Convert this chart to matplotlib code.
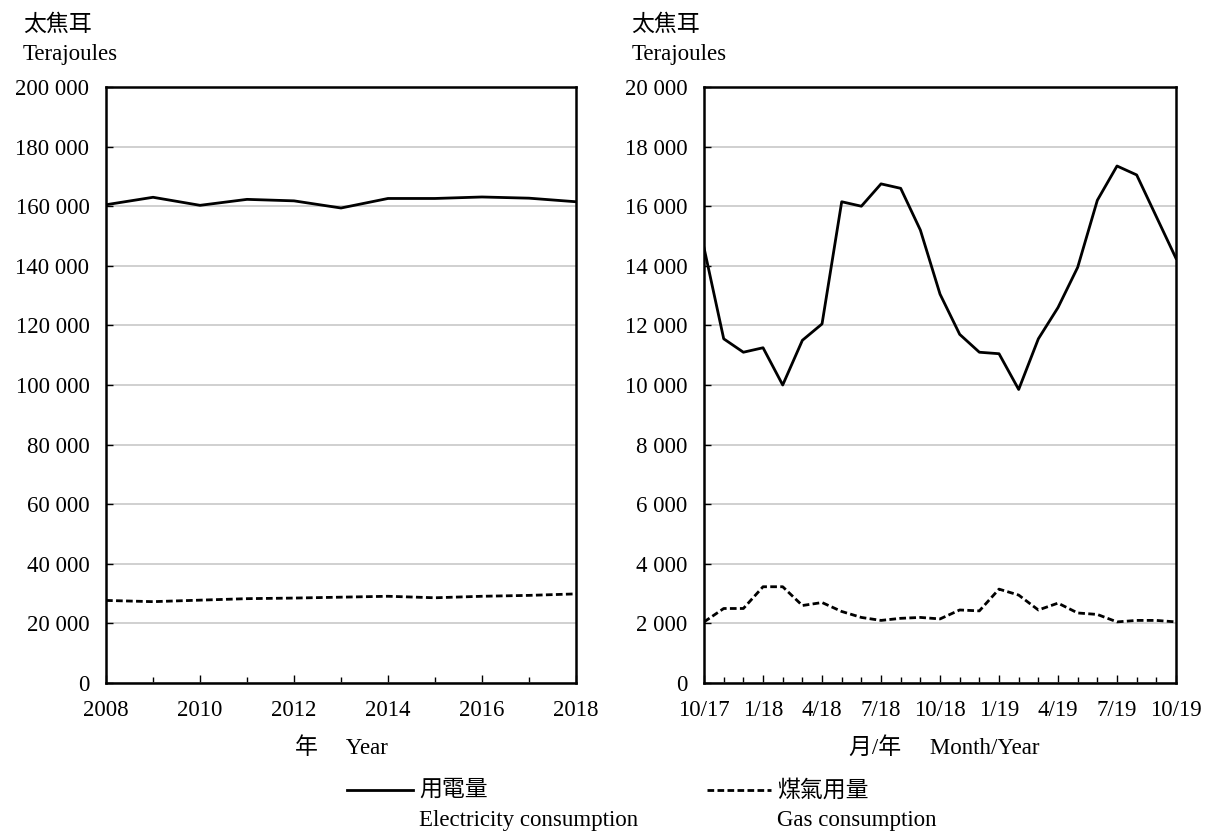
"""Annual and monthly electricity / gas consumption (terajoules), two panels."""
import matplotlib
matplotlib.use("Agg")
import matplotlib.pyplot as plt
from matplotlib.lines import Line2D
from matplotlib.ticker import FuncFormatter, MultipleLocator

FONT = ["Liberation Serif", "Noto Sans CJK TC"]
plt.rcParams["font.family"] = FONT

years = [2008, 2009, 2010, 2011, 2012, 2013, 2014, 2015, 2016, 2017, 2018]
elec_year = [160500, 163000, 160300, 162300, 161800, 159400, 162600, 162600, 163100, 162700, 161500]
gas_year = [27700, 27300, 27800, 28300, 28500, 28800, 29100, 28600, 29100, 29400, 29900]

# monthly series, 10/17 .. 10/19
month_labels = ["10/17", "1/18", "4/18", "7/18", "10/18", "1/19", "4/19", "7/19", "10/19"]
elec_month = [14600, 11550, 11100, 11250, 10000, 11500, 12050, 16150, 16000, 16750,
              16600, 15200, 13050, 11700, 11100, 11050, 9850, 11550, 12600, 13950,
              16200, 17350, 17050, 15650, 14250]
gas_month = [2050, 2500, 2500, 3230, 3230, 2600, 2700, 2400, 2200, 2100,
             2170, 2200, 2150, 2450, 2420, 3150, 2950, 2450, 2680, 2350,
             2300, 2050, 2100, 2100, 2050]

FS = 16.5
LW = 2.0
DASH = (0, (2.4, 1.2))


def space_thousands(v, _):
    return f"{int(v):,}".replace(",", " ")


def style(ax, ymax, ystep):
    ax.set_ylim(0, ymax)
    ax.yaxis.set_major_locator(MultipleLocator(ystep))
    ax.yaxis.set_major_formatter(FuncFormatter(space_thousands))
    ax.grid(axis="y", color="#c4c4c4", lw=1.1)
    ax.set_axisbelow(True)
    for s in ax.spines.values():
        s.set_linewidth(1.8)
    ax.tick_params(axis="y", direction="in", length=5, width=1, labelsize=FS, pad=12)
    ax.tick_params(axis="x", which="both", direction="in", width=1, labelsize=FS, pad=12)
    ax.tick_params(axis="x", which="major", length=6)
    ax.tick_params(axis="x", which="minor", length=4)


fig = plt.figure(figsize=(12.12, 8.32), dpi=100)
ax1 = fig.add_axes([0.0875, 0.1791, 0.3877, 0.7163])
ax2 = fig.add_axes([0.5809, 0.1791, 0.3894, 0.7163])

ax1.plot(years, elec_year, color="black", lw=LW)
ax1.plot(years, gas_year, color="black", lw=LW, linestyle=DASH)
ax1.set_xlim(2008, 2018)
ax1.xaxis.set_major_locator(MultipleLocator(2))
ax1.xaxis.set_minor_locator(MultipleLocator(1))
style(ax1, 200000, 20000)

idx = list(range(len(elec_month)))
ax2.plot(idx, elec_month, color="black", lw=LW)
ax2.plot(idx, gas_month, color="black", lw=LW, linestyle=DASH)
ax2.set_xlim(0, len(idx) - 1)
ax2.set_xticks(range(0, len(idx), 3))
ax2.set_xticklabels(month_labels)
ax2.xaxis.set_minor_locator(MultipleLocator(1))
style(ax2, 20000, 2000)

# unit labels above each panel
for x in (0.019, 0.521):
    fig.text(x, 0.970, "太焦耳", fontsize=FS, va="center", ha="left")
    fig.text(x, 0.934, "Terajoules", fontsize=FS, va="center", ha="left")

fig.text(0.282, 0.101, "年     Year", fontsize=FS, ha="center", va="center")
fig.text(0.779, 0.101, "月/年     Month/Year", fontsize=FS, ha="center", va="center")

# legend drawn by hand
fig.add_artist(Line2D([0.286, 0.341], [0.050, 0.050], transform=fig.transFigure,
                      color="black", lw=LW))
fig.text(0.346, 0.050, "用電量", fontsize=FS, va="center", ha="left")
fig.text(0.346, 0.014, "Electricity consumption", fontsize=FS, va="center", ha="left")
fig.add_artist(Line2D([0.583, 0.636], [0.050, 0.050], transform=fig.transFigure,
                      color="black", lw=LW, linestyle=DASH))
fig.text(0.641, 0.050, "煤氣用量", fontsize=FS, va="center", ha="left")
fig.text(0.641, 0.014, "Gas consumption", fontsize=FS, va="center", ha="left")

fig.savefig("out.png", dpi=100, facecolor="white")
